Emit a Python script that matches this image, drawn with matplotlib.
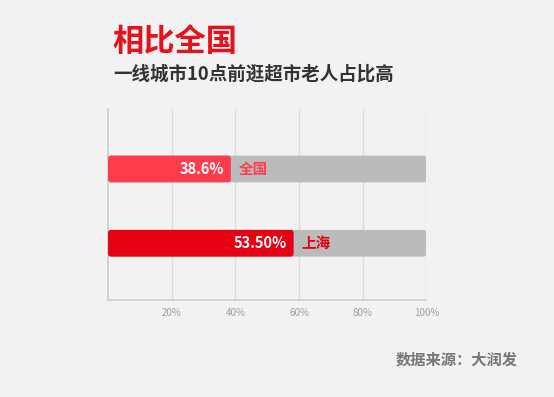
import matplotlib.pyplot as plt
from matplotlib.patches import FancyBboxPatch

plt.rcParams['font.family'] = ['Noto Sans CJK SC', 'DejaVu Sans']

categories = ['全国', '上海']
values = [38.6, 58.3]          # bar lengths as drawn
value_labels = ['38.6%', '53.50%']
colors = ['#FF3C4B', '#E60012']
ticks = [20, 40, 60, 80, 100]
tick_labels = ['20%', '40%', '60%', '80%', '100%']

fig = plt.figure(figsize=(5.54, 3.97), dpi=100, facecolor='#F2F2F2')
ax = fig.add_axes([0.195, 0.2443, 0.5746, 0.4811])
ax.set_facecolor('#F2F2F2')

ymin, ymax = 1.764, -0.807
ax.set_xlim(0, 100)
ax.set_ylim(ymin, ymax)

bar_h = 0.36
# pixel scale for rounded corners
px_x = 318.3 / 100
px_y = 191 / abs(ymin - ymax)
aspect = px_x / px_y

for i, (cat, v, lab, c) in enumerate(zip(categories, values, value_labels, colors)):
    bg = FancyBboxPatch((0, i - bar_h / 2), 100, bar_h,
                        boxstyle='round,pad=0,rounding_size=1',
                        mutation_aspect=aspect, fc='#BBBBBB', ec='none', zorder=2)
    ax.add_patch(bg)
    fg = FancyBboxPatch((0, i - bar_h / 2), v, bar_h,
                        boxstyle='round,pad=0,rounding_size=1',
                        mutation_aspect=aspect, fc=c, ec='none', zorder=3)
    ax.add_patch(fg)
    ax.text(v - 2, i, lab, ha='right', va='center', color='white',
            fontsize=10.5, fontweight='bold', zorder=4)
    ax.text(v + 2.5, i, cat, ha='left', va='center', color=c,
            fontsize=10.5, fontweight='bold', zorder=4)

ax.set_xticks(ticks)
ax.set_xticklabels(tick_labels, fontsize=7, color='#A0A0A0')
ax.set_yticks([])
ax.tick_params(axis='x', length=0, pad=6)
ax.grid(axis='x', color='#DDDDDD', linewidth=1, zorder=0)
for s in ['top', 'right']:
    ax.spines[s].set_visible(False)
for s in ['left', 'bottom']:
    ax.spines[s].set_color('#CCCCCC')
    ax.spines[s].set_linewidth(1.2)

fig.text(112 / 554, 1 - 42 / 397, '相比全国', fontsize=22.5, fontweight='bold',
         color='#E8101C', ha='left', va='center')
fig.text(113 / 554, 1 - 74 / 397, '一线城市10点前逛超市老人占比高', fontsize=13.3,
         fontweight='bold', color='#333333', ha='left', va='center')
fig.text(518 / 554, 1 - 360 / 397, '数据来源：大润发', fontsize=11,
         fontweight='bold', color='#777777', ha='right', va='center')

fig.savefig('out.png', dpi=100, facecolor=fig.get_facecolor())
